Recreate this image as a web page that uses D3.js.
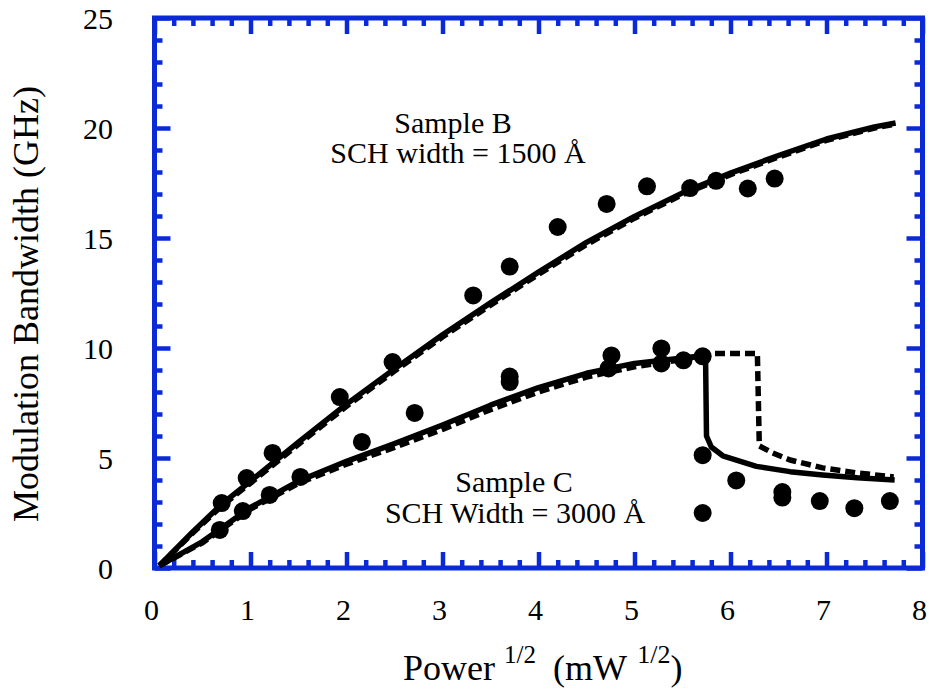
<!DOCTYPE html>
<html>
<head>
<meta charset="utf-8">
<script src="https://cdn.jsdelivr.net/npm/d3@7"></script>
<style>
  body { margin: 0; background: #fff; }
  text { font-family: "Liberation Serif", "Times New Roman", serif; fill: #000; }
</style>
</head>
<body>
<svg width="930" height="690"></svg>
<script>
// measured dots, [power^1/2, bandwidth GHz]
const sampleBDots = [
  [0.70, 2.95], [0.96, 4.09], [1.23, 5.23], [1.93, 7.77], [2.48, 9.36],
  [3.32, 12.39], [3.70, 13.7], [4.20, 15.5], [4.71, 16.55], [5.13, 17.35],
  [5.58, 17.27], [5.85, 17.6], [6.18, 17.25], [6.46, 17.7]
]
const sampleCDots = [
  [0.68, 1.73], [0.92, 2.59], [1.20, 3.32], [1.52, 4.14], [2.16, 5.73],
  [2.71, 7.05], [3.70, 8.45], [3.70, 8.7], [4.73, 9.07], [4.76, 9.66],
  [5.28, 9.3], [5.28, 9.98], [5.51, 9.44], [5.71, 9.62], [5.71, 5.13],
  [5.71, 2.5], [6.06, 3.98], [6.54, 3.2], [6.54, 3.45], [6.93, 3.04],
  [7.29, 2.72], [7.66, 3.04]
]

// model curves
const sampleBSolid = [
  [0.05, 0.1], [0.4, 1.65], [0.7, 2.9], [1, 3.95], [1.5, 5.72], [2, 7.45],
  [2.5, 9.05], [3, 10.6], [3.5, 12.05], [4, 13.45], [4.5, 14.8], [5, 15.98],
  [5.5, 17.05], [6, 17.95], [6.5, 18.75], [7, 19.5], [7.5, 20.05], [7.72, 20.23]
]
const sampleBDashed = [
  [0.05, 0.1], [0.4, 1.6], [0.7, 2.82], [1, 3.86], [1.5, 5.62], [2, 7.35],
  [2.5, 8.95], [3, 10.5], [3.5, 11.95], [4, 13.35], [4.5, 14.7], [5, 15.9],
  [5.5, 16.97], [6, 17.88], [6.5, 18.68], [7, 19.44], [7.5, 20.0], [7.72, 20.18]
]
const sampleCSolid = [
  [0.05, 0.1], [0.5, 1.2], [1, 2.75], [1.5, 3.95], [2, 4.85], [2.5, 5.65],
  [3, 6.5], [3.5, 7.4], [4, 8.2], [4.5, 8.85], [5, 9.3], [5.5, 9.55],
  [5.74, 9.65], [5.75, 6.0], [5.8, 5.5], [5.92, 5.1], [6.27, 4.62],
  [6.62, 4.38], [6.96, 4.23], [7.32, 4.1], [7.71, 4.0]
]
const sampleCDashed = [
  [0.05, 0.1], [0.5, 1.15], [1, 2.68], [1.5, 3.85], [2, 4.72], [2.5, 5.48],
  [3, 6.3], [3.5, 7.2], [4, 8.0], [4.5, 8.68], [5, 9.15], [5.5, 9.48],
  [5.78, 9.75], [6.28, 9.75], [6.3, 5.55], [6.44, 5.23], [6.62, 4.91],
  [6.96, 4.55], [7.32, 4.32], [7.7, 4.14]
]

const xMajor = [0, 1, 2, 3, 4, 5, 6, 7, 8]
const yMajor = [0, 5, 10, 15, 20, 25]

const BLUE = '#0a2ad8'

const svg = d3.select('svg')
const margin = { left: 154.5, right: 930 - 922.5, top: 18, bottom: 690 - 568 }
const width = +svg.attr('width')
const height = +svg.attr('height')

const x = d3.scaleLinear().domain([0, 8]).range([margin.left, width - margin.right])
const y = d3.scaleLinear().domain([0, 25]).range([height - margin.bottom, margin.top])

const xMinor = d3.range(0, 8.001, 0.2).filter(v => Math.abs(v - Math.round(v)) > 1e-6)
const yMinor = d3.range(0, 25.001, 1).filter(v => v % 5 !== 0)

// ticks on all four sides, pointing inwards
const drawTicks = (axisFn, pos, values, size) => {
  const g = svg.append('g')
    .attr('transform', pos)
    .call(axisFn.tickValues(values).tickSize(-size).tickFormat(''))
  g.select('.domain').remove()
  g.selectAll('line').attr('stroke', BLUE).attr('stroke-width', 4.5)
}

drawTicks(d3.axisBottom(x), `translate(0,${y(0)})`, xMajor, 16)
drawTicks(d3.axisBottom(x), `translate(0,${y(0)})`, xMinor, 8)
drawTicks(d3.axisTop(x), `translate(0,${y(25)})`, xMajor, 16)
drawTicks(d3.axisTop(x), `translate(0,${y(25)})`, xMinor, 8)
drawTicks(d3.axisLeft(y), `translate(${x(0)},0)`, yMajor, 16)
drawTicks(d3.axisLeft(y), `translate(${x(0)},0)`, yMinor, 8)
drawTicks(d3.axisRight(y), `translate(${x(8)},0)`, yMajor, 16)
drawTicks(d3.axisRight(y), `translate(${x(8)},0)`, yMinor, 8)

svg.append('rect')
  .attr('x', x(0)).attr('y', y(25))
  .attr('width', x(8) - x(0)).attr('height', y(0) - y(25))
  .attr('fill', 'none')
  .attr('stroke', BLUE)
  .attr('stroke-width', 5)

// tick labels
svg.append('g')
  .selectAll('text')
  .data(xMajor)
  .enter().append('text')
    .attr('x', d => x(d) - 3)
    .attr('y', 620)
    .attr('text-anchor', 'middle')
    .style('font-size', '30px')
    .text(d => d)

svg.append('g')
  .selectAll('text')
  .data(yMajor)
  .enter().append('text')
    .attr('x', 113)
    .attr('y', d => y(d))
    .attr('dy', '0.36em')
    .attr('text-anchor', 'end')
    .style('font-size', '30px')
    .text(d => d)

// axis titles
svg.append('text')
  .attr('transform', 'translate(38,304) rotate(-90)')
  .attr('text-anchor', 'middle')
  .style('font-size', '36px')
  .text('Modulation Bandwidth (GHz)')

const xTitle = svg.append('text')
  .attr('x', 403)
  .attr('y', 680)
  .style('font-size', '36px')
xTitle.append('tspan').text('Power ')
xTitle.append('tspan').attr('dy', -17).style('font-size', '25px').text('1/2')
xTitle.append('tspan').attr('dy', 17).attr('dx', 8).text(' (mW ')
xTitle.append('tspan').attr('dy', -17).attr('dx', 2).style('font-size', '26px').text('1/2')
xTitle.append('tspan').attr('dy', 17).text(')')

// curves
const line = d3.line().x(d => x(d[0])).y(d => y(d[1]))

const curves = [
  { data: sampleBDashed, dash: '10,5' },
  { data: sampleCDashed, dash: '10,5' },
  { data: sampleBSolid, dash: null },
  { data: sampleCSolid, dash: null }
]

svg.append('g')
  .selectAll('path')
  .data(curves)
  .enter().append('path')
    .attr('d', d => line(d.data))
    .attr('fill', 'none')
    .attr('stroke', '#000')
    .attr('stroke-width', 5.5)
    .attr('stroke-linejoin', 'round')
    .attr('stroke-dasharray', d => d.dash)

// measured points
svg.append('g')
  .selectAll('circle')
  .data(sampleBDots.concat(sampleCDots))
  .enter().append('circle')
    .attr('cx', d => x(d[0]))
    .attr('cy', d => y(d[1]))
    .attr('r', 9)
    .attr('fill', '#000')

// annotations
const notes = [
  { text: 'Sample B', cx: 453, by: 133 },
  { text: 'SCH width = 1500 Å', cx: 458, by: 163 },
  { text: 'Sample C', cx: 514, by: 492 },
  { text: 'SCH Width = 3000 Å', cx: 515, by: 523 }
]

svg.append('g')
  .selectAll('text')
  .data(notes)
  .enter().append('text')
    .attr('x', d => d.cx)
    .attr('y', d => d.by)
    .attr('text-anchor', 'middle')
    .style('font-size', '30px')
    .text(d => d.text)
</script>
</body>
</html>
